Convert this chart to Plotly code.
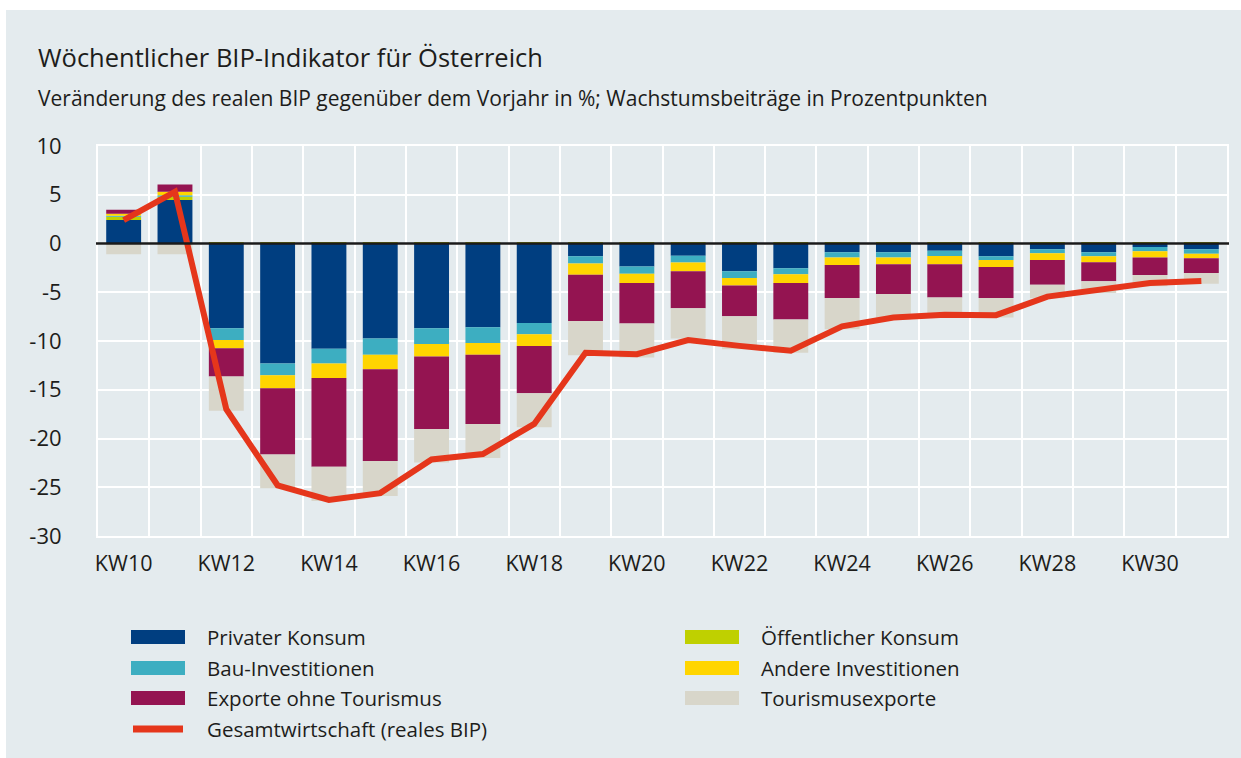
import plotly.graph_objects as go

# ---------------- data ----------------
weeks = ["KW10", "KW11", "KW12", "KW13", "KW14", "KW15", "KW16", "KW17", "KW18", "KW19", "KW20",
         "KW21", "KW22", "KW23", "KW24", "KW25", "KW26", "KW27", "KW28", "KW29", "KW30", "KW31"]
tick_labels = ["KW10", "", "KW12", "", "KW14", "", "KW16", "", "KW18", "", "KW20",
               "", "KW22", "", "KW24", "", "KW26", "", "KW28", "", "KW30", ""]

privat = [2.4, 4.45, -8.7, -12.3, -10.8, -9.75, -8.7, -8.6, -8.15, -1.3, -2.35,
          -1.25, -2.85, -2.55, -0.9, -0.9, -0.75, -1.3, -0.6, -0.9, -0.35, -0.6]
oeffentlich = [0.35, 0.35, 0.15, 0.15, 0.15, 0.15, 0.15, 0.15, 0.15, 0.15, 0.15,
               0.15, 0.15, 0.15, 0.15, 0.15, 0.15, 0.15, 0.15, 0.15, 0.15, 0.15]
bau = [0.1, 0.15, -1.2, -1.2, -1.5, -1.65, -1.6, -1.6, -1.15, -0.75, -0.75,
       -0.7, -0.7, -0.6, -0.54, -0.54, -0.52, -0.4, -0.41, -0.4, -0.44, -0.45]
andere = [0.2, 0.35, -0.85, -1.35, -1.5, -1.5, -1.3, -1.2, -1.2, -1.15, -0.95,
          -0.9, -0.75, -0.9, -0.76, -0.68, -0.85, -0.7, -0.68, -0.62, -0.65, -0.47]
exporte = [0.4, 0.75, -2.9, -6.8, -9.1, -9.4, -7.42, -7.1, -4.85, -4.75, -4.15,
           -3.8, -3.15, -3.75, -3.4, -3.05, -3.42, -3.2, -2.53, -1.95, -1.78, -1.5]
tourismus = [-1.1, -1.1, -3.5, -3.45, -3.5, -3.6, -3.45, -3.5, -3.5, -3.5, -3.5,
             -3.1, -3.4, -3.4, -3.2, -2.6, -2.06, -2.0, -1.4, -1.2, -1.16, -1.1]
gesamt = [2.4, 5.3, -17.0, -24.8, -26.3, -25.6, -22.15, -21.6, -18.5, -11.2, -11.35,
          -9.9, -10.5, -11.0, -8.5, -7.6, -7.3, -7.35, -5.45, -4.75, -4.05, -3.85]

series = [
    ("Privater Konsum", privat, "#003e80"),
    ("Öffentlicher Konsum", oeffentlich, "#bfd000"),
    ("Bau-Investitionen", bau, "#3daec1"),
    ("Andere Investitionen", andere, "#ffd500"),
    ("Exporte ohne Tourismus", exporte, "#941451"),
    ("Tourismusexporte", tourismus, "#d8d6ca"),
]
line_name = "Gesamtwirtschaft (reales BIP)"
line_color = "#e5361b"

FONT = "Open Sans"
TXT = "#1d1d1b"
BG = "#e4ebee"

# ---------------- figure ----------------
W, H = 1241, 758
L, R, T, B = 98, 14, 146, 222
pw, ph = W - L - R, H - T - B


def px_x(px):
    return (px - L) / pw


def px_y(py):
    return (H - B - py) / ph


fig = go.Figure()
for name, vals, col in series:
    fig.add_trace(go.Bar(x=weeks, y=vals, name=name, marker=dict(color=col, line=dict(width=0)),
                         showlegend=False))
fig.add_trace(go.Scatter(x=weeks, y=gesamt, name=line_name, mode="lines",
                         line=dict(color=line_color, width=6), showlegend=False))

shapes = [
    # panel background
    dict(type="rect", xref="paper", yref="paper", x0=px_x(6), x1=px_x(W + 5),
         y0=px_y(H + 5), y1=px_y(10), fillcolor=BG, line=dict(width=0), layer="below"),
    # zero line
    dict(type="line", xref="paper", yref="y", x0=px_x(96), x1=px_x(1229), y0=0, y1=0,
         line=dict(color="#1a1a1a", width=2.5), layer="above"),
]

annotations = [
    dict(text="Wöchentlicher BIP-Indikator für Österreich", xref="paper", yref="paper",
         x=px_x(36), y=px_y(57), xanchor="left", yanchor="middle", showarrow=False,
         font=dict(family=FONT, size=25.5, color=TXT)),
    dict(text="Veränderung des realen BIP gegenüber dem Vorjahr in %; Wachstumsbeiträge in Prozentpunkten",
         xref="paper", yref="paper", x=px_x(36), y=px_y(98), xanchor="left", yanchor="middle",
         showarrow=False, font=dict(family=FONT, size=21, color=TXT)),
]

# legend (manual, two columns)
legend_cols = [
    [("Privater Konsum", "#003e80"), ("Bau-Investitionen", "#3daec1"),
     ("Exporte ohne Tourismus", "#941451"), (line_name, None)],
    [("Öffentlicher Konsum", "#bfd000"), ("Andere Investitionen", "#ffd500"),
     ("Tourismusexporte", "#d8d6ca")],
]
col_x = [131, 685]
row_y = [637, 668, 698, 729]
for ci, items in enumerate(legend_cols):
    x0 = col_x[ci]
    for ri, (label, col) in enumerate(items):
        yc = row_y[ri]
        if col is None:
            shapes.append(dict(type="line", xref="paper", yref="paper", x0=px_x(x0 + 2), x1=px_x(x0 + 52),
                               y0=px_y(yc), y1=px_y(yc), line=dict(color=line_color, width=7)))
        else:
            shapes.append(dict(type="rect", xref="paper", yref="paper", x0=px_x(x0), x1=px_x(x0 + 54),
                               y0=px_y(yc + 7), y1=px_y(yc - 7), fillcolor=col, line=dict(width=0)))
        annotations.append(dict(text=label, xref="paper", yref="paper", x=px_x(x0 + 74), y=px_y(yc),
                                xanchor="left", yanchor="middle", showarrow=False,
                                font=dict(family=FONT, size=20.5, color=TXT)))

fig.update_layout(
    width=W, height=H,
    margin=dict(l=L, r=R, t=T, b=B),
    paper_bgcolor="white",
    plot_bgcolor="rgba(0,0,0,0)",
    barmode="relative",
    bargap=0.32,
    font=dict(family=FONT, color=TXT),
    showlegend=False,
    shapes=shapes,
    annotations=annotations,
    xaxis=dict(type="category", tickmode="array", tickvals=weeks, ticktext=tick_labels,
               tickson="boundaries", ticks="", tickangle=0, showgrid=True, gridcolor="white", gridwidth=2,
               showline=True, linecolor="white", linewidth=2, mirror=True,
               tickfont=dict(family=FONT, size=21.5, color=TXT), ticklabelstandoff=7,
               range=[-0.5, len(weeks) - 0.5], fixedrange=True, automargin=False),
    yaxis=dict(range=[-30, 10], tickmode="array", tickvals=[10, 5, 0, -5, -10, -15, -20, -25, -30],
               ticktext=["10", "5", "0", "-5", "-10", "-15", "-20", "-25", "-30"],
               showgrid=True, gridcolor="white", gridwidth=2, zeroline=False,
               showline=True, linecolor="white", linewidth=2, mirror=True, ticks="",
               tickfont=dict(family=FONT, size=22, color=TXT), ticklabelstandoff=30,
               fixedrange=True, automargin=False),
)

fig.write_html("out.html", config={"displayModeBar": False, "staticPlot": True},
               post_script="document.body.style.margin='0';document.body.style.overflow='hidden';")
